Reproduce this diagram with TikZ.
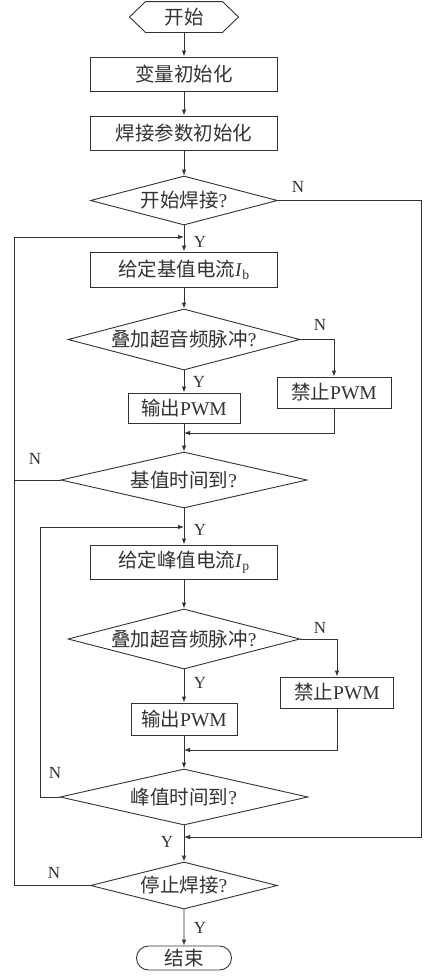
\documentclass[tikz,border=0pt]{standalone}
\usepackage{fontspec}
\setmainfont{Liberation Serif}
\newfontfamily\cjkf{Noto Sans CJK SC}
\newcommand\zhtxt[1]{{\cjkf #1}}
\usetikzlibrary{shapes.geometric,shapes.misc,arrows.meta}
\definecolor{ink}{HTML}{333333}
\begin{document}
\begin{tikzpicture}[x=1pt,y=-1pt,line width=0.9pt,
  txt/.style={text=ink,font=\fontsize{19.5}{21}\selectfont,inner sep=0pt},
  proc/.style={txt,draw=ink,rectangle,minimum width=187pt,minimum height=34pt},
  small/.style={txt,draw=ink,rectangle,minimum width=#1,minimum height=31pt},
  dec/.style args={#1x#2}{txt,draw=ink,diamond,minimum width=#1,minimum height=#2,aspect=3.8},
  lab/.style={text=ink,font=\fontsize{17}{18}\selectfont,inner sep=0pt},
  arr/.style={draw=ink,-{Latex[length=6pt,width=4.5pt]}},
  ln/.style={draw=ink}]
\useasboundingbox[fill=white] (0,0) rectangle (427,980);
% nodes
\node[txt,minimum width=108pt,minimum height=30pt] (start) at (184,17) {\zhtxt{开始}};
\draw[ink] (start.west) -- ([xshift=16pt]start.north west) -- ([xshift=-16pt]start.north east)
  -- (start.east) -- ([xshift=-16pt]start.south east) -- ([xshift=16pt]start.south west) -- cycle;
\node[proc] (b1) at (184,74) {\zhtxt{变量初始化}};
\node[proc] (b2) at (184,133) {\zhtxt{焊接参数初始化}};
\node[dec=187pt x 49pt] (d1) at (184,200.5) {\zhtxt{开始焊接}?};
\node[proc,minimum height=35pt] (bIb) at (184,269.5) {\zhtxt{给定基值电流}\textit{I}\textsubscript{b}};
\node[dec=232pt x 61pt] (d2) at (184,339.5) {\zhtxt{叠加超音频脉冲}?};
\node[small=112pt,minimum height=30pt] (o1) at (184,408) {\zhtxt{输出}PWM};
\node[small=114pt] (n1) at (334,392.5) {\zhtxt{禁止}PWM};
\node[dec=246pt x 56pt] (d3) at (184,480) {\zhtxt{基值时间到}?};
\node[proc] (bIp) at (184,562) {\zhtxt{给定峰值电流}\textit{I}\textsubscript{p}};
\node[dec=232pt x 60pt] (d4) at (184,639) {\zhtxt{叠加超音频脉冲}?};
\node[small=106pt,minimum height=32pt] (o2) at (184,719) {\zhtxt{输出}PWM};
\node[small=113pt] (n2) at (337,692.5) {\zhtxt{禁止}PWM};
\node[dec=248pt x 56pt] (d5) at (184,797) {\zhtxt{峰值时间到}?};
\node[dec=187pt x 47pt] (d6) at (184,885.5) {\zhtxt{停止焊接}?};
\node[txt,draw=ink,rounded rectangle,minimum width=95pt,minimum height=24pt] (end) at (184,958) {\zhtxt{结束}};
% coordinates
\coordinate (m1) at (184,237);
\coordinate (m2) at (184,433);
\coordinate (m3) at (184,527);
\coordinate (m4) at (184,750);
\coordinate (m5) at (184,837);
\coordinate (r1) at (421,200.5);
\coordinate (r2) at (421,837);
\coordinate (l1) at (14,885.5);
\coordinate (l1b) at (14,237);
\coordinate (l2) at (14,480);
\coordinate (l3) at (40,797);
\coordinate (l3b) at (40,527);
\coordinate (t1) at (334,339.5);
\coordinate (t2) at (334,433);
\coordinate (t3) at (337,639);
\coordinate (t4) at (337,750);
% connectors
\draw[arr] (start) -- (b1);
\draw[arr] (b1) -- (b2);
\draw[arr] (b2) -- (d1);
\draw[arr] (d1) -- (bIb);
\draw[arr] (bIb) -- (d2);
\draw[arr] (d2) -- (o1);
\draw[arr] (d2.east) -- (t1) -- (n1.north);
\draw[arr] (o1) -- (d3);
\draw[arr] (n1.south) -- (t2) -- (m2);
\draw[arr] (d3) -- (bIp);
\draw[arr] (bIp) -- (d4);
\draw[arr] (d4) -- (o2);
\draw[arr] (d4.east) -- (t3) -- (n2.north);
\draw[arr] (o2) -- (d5);
\draw[arr] (n2.south) -- (t4) -- (m4);
\draw[arr] (d5) -- (d6);
\draw[arr] (d6) -- (end);
\draw[arr] (d1.east) -- (r1) -- (r2) -- (m5);
\draw[arr] (d6.west) -- (l1) -- (l1b) -- (m1);
\draw[ln] (d3.west) -- (l2);
\draw[arr] (d5.west) -- (l3) -- (l3b) -- (m3);
% labels
\node[lab] (yn1) at (298,187) {N};
\node[lab] (yy1) at (200,242) {Y};
\node[lab] (yn2) at (320,325) {N};
\node[lab] (yy2) at (199,382) {Y};
\node[lab] (yn3) at (35,459) {N};
\node[lab] (yy3) at (200,530) {Y};
\node[lab] (yn4) at (320,628) {N};
\node[lab] (yy4) at (200,683) {Y};
\node[lab] (yn5) at (55,773) {N};
\node[lab] (yy5) at (167,842) {Y};
\node[lab] (yn6) at (54,873) {N};
\node[lab] (yy6) at (200,928) {Y};
\end{tikzpicture}
\end{document}
